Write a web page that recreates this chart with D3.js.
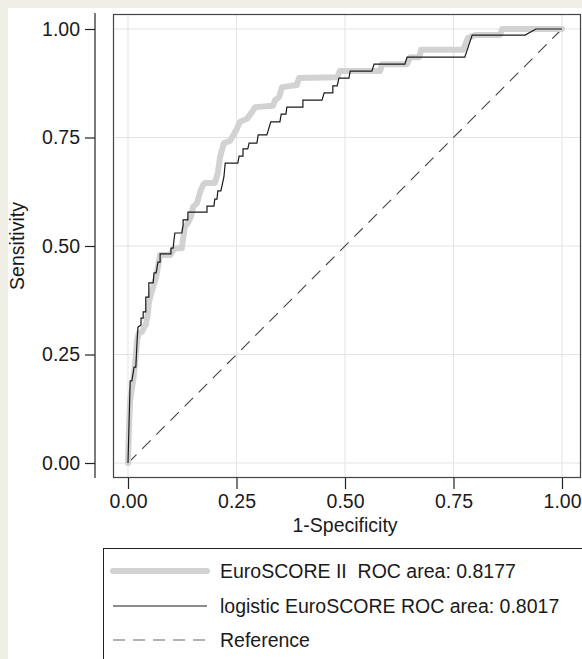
<!DOCTYPE html>
<html>
<head>
<meta charset="utf-8">
<script src="https://cdn.jsdelivr.net/npm/d3@7"></script>
<style>
  body { margin: 0; background: #efefe5; }
  svg { display: block; }
  text { font-family: "Liberation Sans", Arial, sans-serif; fill: #1a1a1a; }
</style>
</head>
<body>
<script>
// ROC points, 1-specificity / sensitivity
const euro2Fpr = [0, 0.002, 0.005, 0.012, 0.016, 0.018, 0.021, 0.025, 0.032, 0.037, 0.041, 0.046, 0.048, 0.053, 0.058, 0.065, 0.069, 0.074, 0.097, 0.104, 0.111, 0.124, 0.127, 0.131, 0.138, 0.145, 0.150, 0.159, 0.166, 0.173, 0.177, 0.200, 0.207, 0.212, 0.221, 0.235, 0.251, 0.258, 0.274, 0.286, 0.293, 0.334, 0.339, 0.348, 0.355, 0.389, 0.394, 0.482, 0.488, 0.581, 0.585, 0.643, 0.650, 0.671, 0.675, 0.772, 0.783, 0.800, 0.857, 0.862, 1];
const euro2Tpr = [0, 0.076, 0.145, 0.191, 0.226, 0.249, 0.283, 0.300, 0.302, 0.313, 0.318, 0.346, 0.369, 0.389, 0.406, 0.429, 0.452, 0.479, 0.479, 0.491, 0.495, 0.495, 0.518, 0.544, 0.553, 0.567, 0.590, 0.599, 0.624, 0.641, 0.645, 0.645, 0.668, 0.705, 0.737, 0.742, 0.770, 0.786, 0.793, 0.809, 0.820, 0.823, 0.836, 0.843, 0.866, 0.871, 0.887, 0.889, 0.903, 0.903, 0.919, 0.919, 0.935, 0.935, 0.952, 0.952, 0.979, 0.986, 0.986, 1, 1];

const logFpr = [0, 0.002, 0.005, 0.009, 0.014, 0.018, 0.021, 0.023, 0.030, 0.030, 0.035, 0.035, 0.041, 0.041, 0.048, 0.048, 0.058, 0.060, 0.065, 0.069, 0.074, 0.074, 0.099, 0.099, 0.104, 0.106, 0.108, 0.124, 0.127, 0.127, 0.138, 0.138, 0.182, 0.182, 0.198, 0.200, 0.205, 0.207, 0.214, 0.221, 0.224, 0.253, 0.256, 0.265, 0.265, 0.276, 0.279, 0.297, 0.300, 0.320, 0.329, 0.350, 0.353, 0.364, 0.366, 0.403, 0.403, 0.447, 0.452, 0.472, 0.472, 0.482, 0.486, 0.509, 0.512, 0.562, 0.567, 0.638, 0.643, 0.776, 0.793, 0.915, 0.940, 1];
const logTpr = [0, 0.076, 0.189, 0.189, 0.221, 0.221, 0.283, 0.313, 0.318, 0.334, 0.334, 0.348, 0.348, 0.382, 0.382, 0.415, 0.415, 0.438, 0.438, 0.463, 0.463, 0.482, 0.482, 0.495, 0.495, 0.514, 0.530, 0.530, 0.548, 0.560, 0.560, 0.578, 0.578, 0.592, 0.592, 0.608, 0.608, 0.627, 0.627, 0.659, 0.691, 0.691, 0.707, 0.707, 0.724, 0.724, 0.737, 0.737, 0.756, 0.756, 0.786, 0.786, 0.804, 0.804, 0.820, 0.820, 0.836, 0.836, 0.853, 0.853, 0.869, 0.869, 0.887, 0.887, 0.903, 0.903, 0.919, 0.919, 0.935, 0.935, 0.986, 0.986, 1, 1];

const refX = [0, 1];
const refY = [0, 1];

const ticks = [0, 0.25, 0.5, 0.75, 1];
const legendLabels = ['EuroSCORE II  ROC area: 0.8177', 'logistic EuroSCORE ROC area: 0.8017', 'Reference'];

const W = 582, H = 659;
const fontSize = '19.5px';

const svg = d3.select('body').append('svg')
  .attr('width', W)
  .attr('height', H);

// white graph area
svg.append('rect')
  .attr('x', 8).attr('y', 8)
  .attr('width', W - 8).attr('height', H - 8)
  .style('fill', '#fff');

const x = d3.scaleLinear().domain([0, 1]).range([128, 562]);
const y = d3.scaleLinear().domain([0, 1]).range([463, 29]);

// grid
svg.append('g').selectAll('line.gx')
  .data(ticks)
  .enter()
  .append('line')
  .attr('x1', (d) => x(d)).attr('x2', (d) => x(d))
  .attr('y1', 14).attr('y2', 478)
  .style('stroke', '#e3e3e3').style('stroke-width', 1);
svg.append('g').selectAll('line.gy')
  .data(ticks)
  .enter()
  .append('line')
  .attr('x1', 113).attr('x2', 580)
  .attr('y1', (d) => y(d)).attr('y2', (d) => y(d))
  .style('stroke', '#e3e3e3').style('stroke-width', 1);

// plot region frame
svg.append('rect')
  .attr('x', 113.5).attr('y', 14.5)
  .attr('width', 467).attr('height', 463)
  .style('fill', 'none')
  .style('stroke', '#444')
  .style('stroke-width', 1.2);

const line = d3.line()
  .x((d) => x(d[0]))
  .y((d) => y(d[1]));

// reference diagonal
svg.append('path')
  .datum(d3.zip(refX, refY))
  .attr('d', line)
  .style('fill', 'none')
  .style('stroke', '#444')
  .style('stroke-width', 1.1)
  .style('stroke-dasharray', '12,8');

svg.append('path')
  .datum(d3.zip(euro2Fpr, euro2Tpr))
  .attr('d', line)
  .style('fill', 'none')
  .style('stroke', '#d2d2d2')
  .style('stroke-width', 6)
  .style('stroke-linejoin', 'round')
  .style('stroke-linecap', 'round');

svg.append('path')
  .datum(d3.zip(logFpr, logTpr))
  .attr('d', line)
  .style('fill', 'none')
  .style('stroke', '#1a1a1a')
  .style('stroke-width', 1.2);

// axes
const yAxis = svg.append('g')
  .attr('transform', 'translate(95,0)')
  .call(d3.axisLeft(y).tickValues(ticks).tickFormat(d3.format('.2f')).tickSize(10).tickPadding(5));
yAxis.select('.domain').remove();
yAxis.append('line')
  .attr('x1', 0).attr('x2', 0).attr('y1', 13).attr('y2', 478)
  .style('stroke', '#222').style('stroke-width', 1.2);

const xAxis = svg.append('g')
  .attr('transform', 'translate(0,478)')
  .call(d3.axisBottom(x).tickValues(ticks).tickFormat(d3.format('.2f')).tickSize(11).tickPadding(5));
xAxis.select('.domain').remove();

svg.selectAll('.tick line').style('stroke', '#222').style('stroke-width', 1.2);
svg.selectAll('.tick text').style('font-size', fontSize).style('fill', '#1a1a1a')
  .style('font-family', '"Liberation Sans", Arial, sans-serif');

svg.append('text')
  .attr('x', 345).attr('y', 532)
  .attr('text-anchor', 'middle')
  .style('font-size', fontSize)
  .text('1-Specificity');

svg.append('text')
  .attr('transform', 'translate(24,246) rotate(-90)')
  .attr('text-anchor', 'middle')
  .style('font-size', fontSize)
  .text('Sensitivity');

// legend
svg.append('rect')
  .attr('x', 103.5).attr('y', 548.5)
  .attr('width', 500).attr('height', 200)
  .style('fill', '#fff')
  .style('stroke', '#222')
  .style('stroke-width', 1);

const legendY = [571, 606, 640];
const legendStyles = [
  { stroke: '#d2d2d2', width: 6, dash: null, cap: 'round' },
  { stroke: '#1a1a1a', width: 1.2, dash: null, cap: 'butt' },
  { stroke: '#666', width: 1.1, dash: '12,8', cap: 'butt' },
];

const lg = svg.append('g').selectAll('g.item')
  .data(legendLabels)
  .enter()
  .append('g')
  .classed('item', true);

lg.append('line')
  .attr('x1', 113).attr('x2', 207)
  .attr('y1', (d, i) => legendY[i]).attr('y2', (d, i) => legendY[i])
  .style('stroke', (d, i) => legendStyles[i].stroke)
  .style('stroke-width', (d, i) => legendStyles[i].width)
  .style('stroke-linecap', (d, i) => legendStyles[i].cap)
  .style('stroke-dasharray', (d, i) => legendStyles[i].dash);

lg.append('text')
  .attr('x', 220)
  .attr('y', (d, i) => legendY[i])
  .attr('dy', '0.35em')
  .style('font-size', fontSize)
  .style('white-space', 'pre')
  .text((d) => d);
</script>
</body>
</html>
